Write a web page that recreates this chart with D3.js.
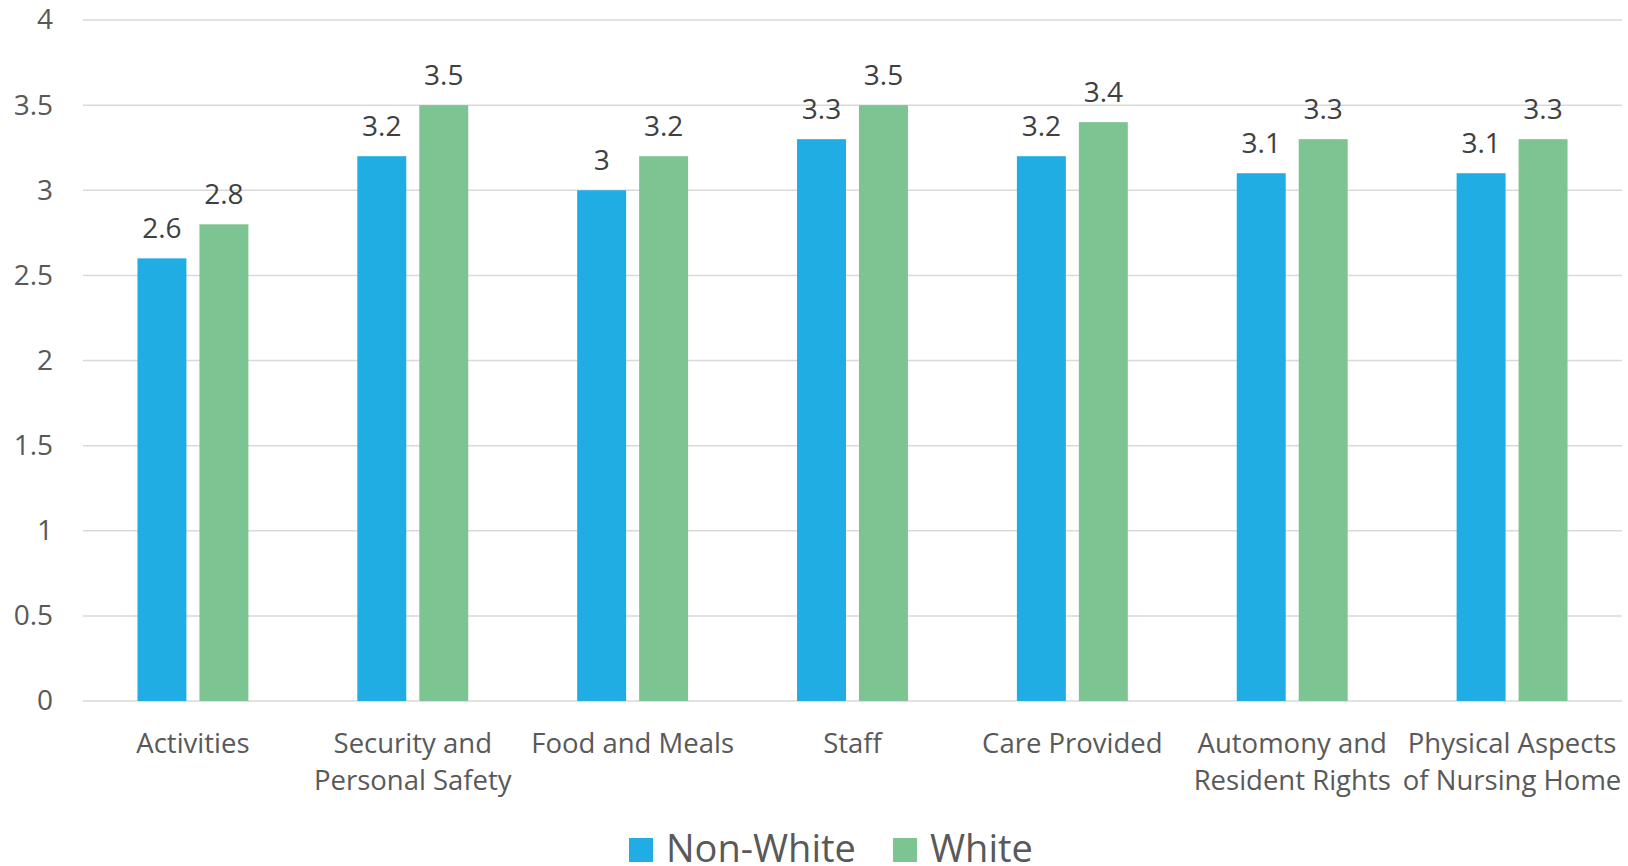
<!DOCTYPE html>
<html>
<head>
<meta charset="utf-8">
<script src="https://cdn.jsdelivr.net/npm/d3@7/dist/d3.min.js"></script>
<style>
  html, body { margin: 0; padding: 0; background: #fff; }
  svg { display: block; font-family: "Open Sans", sans-serif; }
</style>
</head>
<body>
<svg id="chart" width="1628" height="866"></svg>
<script>
const categories = [
  "Activities",
  "Security and\nPersonal Safety",
  "Food and Meals",
  "Staff",
  "Care Provided",
  "Automony and\nResident Rights",
  "Physical Aspects\nof Nursing Home"
];
const seriesNames = ["Non-White", "White"];
const nonWhite = [2.6, 3.2, 3.0, 3.3, 3.2, 3.1, 3.1];
const white = [2.8, 3.5, 3.2, 3.5, 3.4, 3.3, 3.3];
const yTicks = [0, 0.5, 1, 1.5, 2, 2.5, 3, 3.5, 4];
const colors = ["#1FADE4", "#7DC493"];

(function () {
const seriesValues = [nonWhite, white];
const svg = d3.select("#chart");
const mLeft = 83, mRight = 1622, mTop = 20, mBottom = 701;

const x0 = d3.scaleBand().domain(categories).range([mLeft, mRight]).paddingInner(0).paddingOuter(0);
const x1 = d3.scaleBand().domain(seriesNames).range([0, x0.bandwidth()]).paddingInner(0.21).paddingOuter(0.879);
const y = d3.scaleLinear().domain([0, 4]).range([mBottom, mTop]);

// gridlines
svg.append("g").selectAll("line").data(yTicks).join("line")
  .attr("x1", mLeft).attr("x2", mRight)
  .attr("y1", d => y(d)).attr("y2", d => y(d))
  .attr("stroke", "#D9D9D9").attr("stroke-width", 1.5);

// y axis labels
const yAxis = d3.axisLeft(y).tickValues(yTicks).tickSize(0).tickPadding(0).tickFormat(d3.format("~g"));
const yg = svg.append("g").attr("transform", "translate(53,0)").call(yAxis);
yg.select(".domain").remove();
yg.selectAll("text").attr("font-size", 28).attr("fill", "#595959").attr("font-family", "Open Sans, sans-serif");

// bars
const groups = svg.append("g").selectAll("g").data(categories).join("g")
  .attr("transform", d => `translate(${x0(d)},0)`);

groups.each(function (cat, ci) {
  const g = d3.select(this);
  seriesNames.forEach((s, si) => {
    const v = seriesValues[si][ci];
    g.append("rect")
      .attr("x", x1(s)).attr("width", x1.bandwidth())
      .attr("y", y(v)).attr("height", y(0) - y(v))
      .attr("fill", colors[si]);
    g.append("text")
      .attr("x", x1(s) + x1.bandwidth() / 2)
      .attr("y", y(v) - 20)
      .attr("text-anchor", "middle")
      .attr("font-size", 28).attr("fill", "#404040")
      .text(d3.format("~g")(v));
  });
});

// category labels
const xg = svg.append("g");
categories.forEach(cat => {
  const lines = cat.split("\n");
  const cx = x0(cat) + x0.bandwidth() / 2;
  const t = xg.append("text")
    .attr("x", cx).attr("y", 753)
    .attr("text-anchor", "middle")
    .attr("font-size", 27.5).attr("fill", "#595959");
  lines.forEach((ln, i) => {
    t.append("tspan").attr("x", cx).attr("dy", i === 0 ? 0 : 37).text(ln);
  });
});

// legend
const legendItems = [
  { name: seriesNames[0], color: colors[0], x: 629 },
  { name: seriesNames[1], color: colors[1], x: 893 }
];
const lg = svg.append("g");
legendItems.forEach(it => {
  lg.append("rect").attr("x", it.x).attr("y", 838).attr("width", 24).attr("height", 24).attr("fill", it.color);
  lg.append("text").attr("x", it.x + 37).attr("y", 862)
    .attr("font-size", 38).attr("fill", "#595959").text(it.name);
});
})();
</script>
</body>
</html>
